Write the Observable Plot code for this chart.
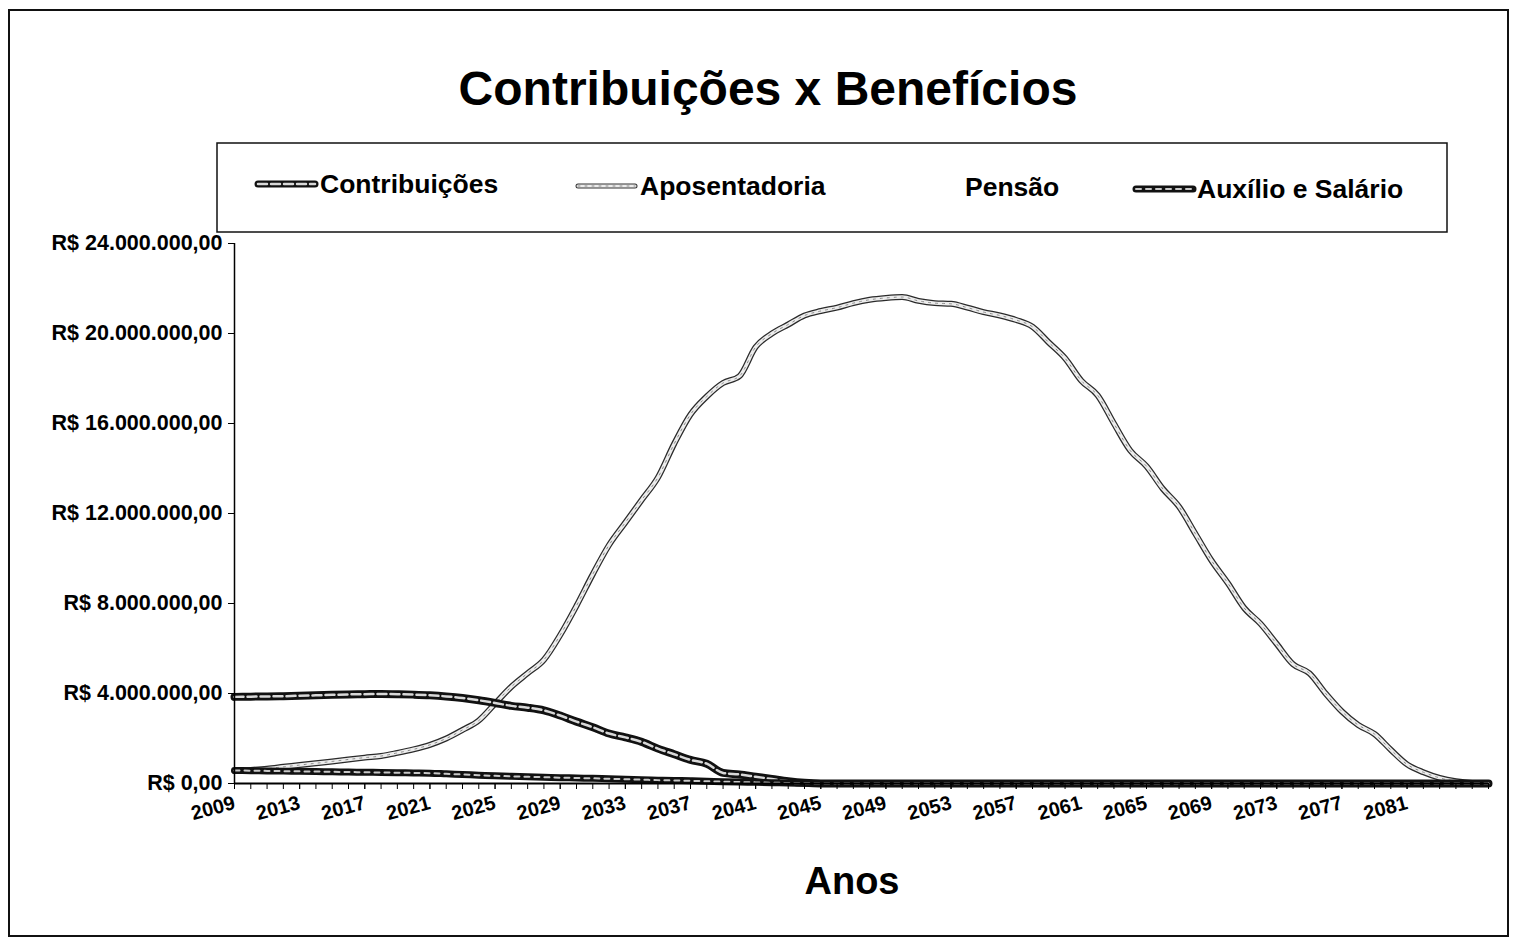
<!DOCTYPE html>
<html>
<head>
<meta charset="utf-8">
<script src="https://cdn.jsdelivr.net/npm/d3@7"></script>
<script src="https://cdn.jsdelivr.net/npm/@observablehq/plot@0.6"></script>
<style>
  body { margin: 0; background: #fff; }
  #wrap { position: relative; width: 1523px; height: 944px; overflow: hidden; background: #fff; }
  #wrap > svg { position: absolute; left: 0; top: 0; }
  text { font-family: "Liberation Sans", Arial, sans-serif; font-weight: bold; }
</style>
</head>
<body>
<div id="wrap"></div>
<script>
// ---- Data (values in millions of R$) ----
const years = d3.range(2009, 2087); // categories 2009 .. 2086
const labelYears = [2009, 2013, 2017, 2021, 2025, 2029, 2033, 2037, 2041, 2045, 2049, 2053, 2057, 2061, 2065, 2069, 2073, 2077, 2081];
const yTicks = [0, 4e6, 8e6, 12e6, 16e6, 20e6, 24e6];
const seriesNames = ["Contribuições", "Aposentadoria", "Pensão", "Auxílio e Salário"];

const contribuicoes = [
  3.85, 3.86, 3.87, 3.88, 3.90, 3.92, 3.94, 3.96, 3.97, 3.98,
  3.97, 3.95, 3.92, 3.87, 3.80, 3.70, 3.58, 3.45, 3.37, 3.25,
  3.02, 2.75, 2.50, 2.22, 2.05, 1.85, 1.55, 1.30, 1.05, 0.88,
  0.47, 0.40, 0.30, 0.20, 0.10, 0.03, 0, 0, 0, 0,
  0, 0, 0, 0, 0, 0, 0, 0, 0, 0,
  0, 0, 0, 0, 0, 0, 0, 0, 0, 0,
  0, 0, 0, 0, 0, 0, 0, 0, 0, 0,
  0, 0, 0, 0, 0, 0, 0, 0
];
const aposentadoria = [
  0.55, 0.60, 0.66, 0.74, 0.82, 0.90, 0.98, 1.07, 1.15, 1.22,
  1.36, 1.52, 1.72, 2.00, 2.38, 2.80, 3.55, 4.30, 4.90, 5.50,
  6.60, 7.90, 9.30, 10.6, 11.6, 12.6, 13.6, 15.1, 16.4, 17.2,
  17.8, 18.1, 19.4, 20.0, 20.4, 20.8, 21.0, 21.15, 21.35, 21.5,
  21.58, 21.62, 21.45, 21.35, 21.32, 21.15, 20.95, 20.8, 20.6, 20.3,
  19.6, 18.9, 17.9, 17.25, 16.0, 14.8, 14.1, 13.1, 12.3, 11.1,
  9.9, 8.9, 7.8, 7.1, 6.2, 5.3, 4.9, 4.0, 3.2, 2.6,
  2.2, 1.5, 0.85, 0.5, 0.25, 0.1, 0.02, 0
];
const pensao = [
  0.30, 0.30, 0.29, 0.29, 0.28, 0.28, 0.27, 0.27, 0.26, 0.26,
  0.25, 0.25, 0.24, 0.23, 0.22, 0.21, 0.20, 0.19, 0.18, 0.17,
  0.16, 0.15, 0.14, 0.13, 0.12, 0.11, 0.10, 0.09, 0.08, 0.07,
  0.06, 0.05, 0.04, 0.03, 0.02, 0.01, 0, 0, 0, 0,
  0, 0, 0, 0, 0, 0, 0, 0, 0, 0,
  0, 0, 0, 0, 0, 0, 0, 0, 0, 0,
  0, 0, 0, 0, 0, 0, 0, 0, 0, 0,
  0, 0, 0, 0, 0, 0, 0, 0
];
const auxilio = [
  0.58, 0.57, 0.56, 0.55, 0.54, 0.53, 0.52, 0.51, 0.50, 0.49,
  0.48, 0.47, 0.46, 0.43, 0.40, 0.37, 0.34, 0.32, 0.30, 0.28,
  0.26, 0.245, 0.23, 0.21, 0.19, 0.17, 0.15, 0.135, 0.12, 0.10,
  0.08, 0.065, 0.05, 0.035, 0.02, 0.01, 0, 0, 0, 0,
  0, 0, 0, 0, 0, 0, 0, 0, 0, 0,
  0, 0, 0, 0, 0, 0, 0, 0, 0, 0,
  0, 0, 0, 0, 0, 0, 0, 0, 0, 0,
  0, 0, 0, 0, 0, 0, 0, 0
];

const seriesValues = [contribuicoes, aposentadoria, pensao, auxilio];
const rows = [];
seriesNames.forEach((name, i) => {
  years.forEach((yr, j) => rows.push({ year: yr, serie: name, value: seriesValues[i][j] * 1e6 }));
});
const S = name => rows.filter(d => d.serie === name);

const br = d3.formatLocale({ decimal: ",", thousands: ".", grouping: [3], currency: ["R$ ", ""] });
const fmtMoney = br.format("$,.2f");

const FONT = '"Liberation Sans", Arial, sans-serif';
const curve = "monotone-x";

const plot = Plot.plot({
  width: 1523,
  height: 944,
  marginLeft: 234,
  marginRight: 35,
  marginTop: 243,
  marginBottom: 161,
  style: { fontFamily: FONT, fontWeight: "bold", fontSize: "20px", background: "transparent", color: "#000", overflow: "visible" },
  x: { domain: [2009, 2086] },
  y: { domain: [0, 24e6] },
  marks: [
    // Pensão (white, not visible in the original)
    Plot.lineY(S("Pensão"), { x: "year", y: "value", stroke: "#ffffff", strokeWidth: 2, curve }),
    // Aposentadoria: light hollow line
    Plot.lineY(S("Aposentadoria"), { x: "year", y: "value", stroke: "#2a2a2a", strokeWidth: 6, curve, strokeLinecap: "round", strokeLinejoin: "round" }),
    Plot.lineY(S("Aposentadoria"), { x: "year", y: "value", stroke: "#ececec", strokeWidth: 3.5, curve, strokeLinecap: "round" }),
    Plot.lineY(S("Aposentadoria"), { x: "year", y: "value", stroke: "#8a8a8a", strokeWidth: 1, strokeDasharray: "2,5", curve }),
    // Contribuições: dark hollow line
    Plot.lineY(S("Contribuições"), { x: "year", y: "value", stroke: "#111", strokeWidth: 8, curve, strokeLinecap: "round", strokeLinejoin: "round" }),
    Plot.lineY(S("Contribuições"), { x: "year", y: "value", stroke: "#d8d8d8", strokeWidth: 2.5, strokeDasharray: "9,4", curve, strokeLinecap: "round" }),
    // Auxílio e Salário
    Plot.lineY(S("Auxílio e Salário"), { x: "year", y: "value", stroke: "#111", strokeWidth: 7, curve, strokeLinecap: "round", strokeLinejoin: "round" }),
    Plot.lineY(S("Auxílio e Salário"), { x: "year", y: "value", stroke: "#c8c8c8", strokeWidth: 2, strokeDasharray: "5,5", curve, strokeLinecap: "round" }),
    // Axes
    Plot.ruleX([2009], { y1: 0, y2: 24e6, stroke: "#000", strokeWidth: 1.5 }),
    Plot.ruleY([0], { stroke: "#000", strokeWidth: 2 }),
    Plot.axisY({ ticks: yTicks, tickFormat: fmtMoney, tickSize: 6, tickPadding: 6, label: null, fontSize: 21.5, stroke: "#000" }),
    Plot.axisX({ ticks: years, tickFormat: () => "", tickSize: 6, label: null, stroke: "#000" }),
    Plot.axisX({ ticks: labelYears, tickFormat: d => String(d), tickSize: 6, tickPadding: 13, tickRotate: -15, label: null, fontSize: 20 })
  ]
});

const wrap = document.getElementById("wrap");
wrap.appendChild(plot);

// ---- Overlay: frame, title, legend, axis title ----
const ns = "http://www.w3.org/2000/svg";
const ov = d3.select(wrap).append("svg").attr("width", 1523).attr("height", 944).attr("xmlns", ns);
ov.append("rect").attr("x", 9).attr("y", 10).attr("width", 1499).attr("height", 926)
  .attr("fill", "none").attr("stroke", "#111").attr("stroke-width", 2);
ov.append("text").attr("x", 768).attr("y", 105).attr("text-anchor", "middle")
  .attr("font-size", 48).text("Contribuições x Benefícios");
ov.append("rect").attr("x", 217).attr("y", 143).attr("width", 1230).attr("height", 89)
  .attr("fill", "none").attr("stroke", "#111").attr("stroke-width", 1.5);

const legendItems = [
  { name: seriesNames[0], sx: 255, tx: 320, y: 184, style: "contrib" },
  { name: seriesNames[1], sx: 575, tx: 640, y: 186, style: "apos" },
  { name: seriesNames[2], sx: 900, tx: 965, y: 187, style: "none" },
  { name: seriesNames[3], sx: 1133, tx: 1197, y: 189, style: "aux" }
];
legendItems.forEach(it => {
  const g = ov.append("g");
  const seg = (stroke, w, dash) => g.append("line").attr("x1", it.sx + 3).attr("x2", it.sx + 60)
    .attr("y1", it.y).attr("y2", it.y).attr("stroke", stroke).attr("stroke-width", w)
    .attr("stroke-linecap", "round").attr("stroke-dasharray", dash || null);
  if (it.style === "contrib") { seg("#111", 7); seg("#d8d8d8", 2.5, "9,4"); }
  if (it.style === "apos") { seg("#333", 5); seg("#ececec", 3); seg("#8a8a8a", 1, "2,5"); }
  if (it.style === "aux") { seg("#111", 7); seg("#c8c8c8", 2, "5,5"); }
  g.append("text").attr("x", it.tx).attr("y", it.y + 9).attr("font-size", 26.5).text(it.name);
});

ov.append("text").attr("x", 852).attr("y", 894).attr("text-anchor", "middle")
  .attr("font-size", 38).text("Anos");
</script>
</body>
</html>
